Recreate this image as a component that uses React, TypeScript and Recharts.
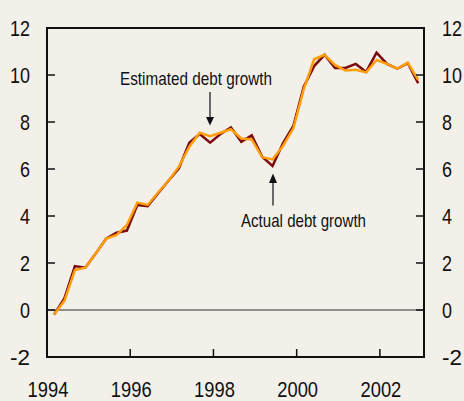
import { LineChart, Line, XAxis, YAxis, ReferenceLine } from "recharts"

const quarters = [
  "1994Q1", "1994Q2", "1994Q3", "1994Q4",
  "1995Q1", "1995Q2", "1995Q3", "1995Q4",
  "1996Q1", "1996Q2", "1996Q3", "1996Q4",
  "1997Q1", "1997Q2", "1997Q3", "1997Q4",
  "1998Q1", "1998Q2", "1998Q3", "1998Q4",
  "1999Q1", "1999Q2", "1999Q3", "1999Q4",
  "2000Q1", "2000Q2", "2000Q3", "2000Q4",
  "2001Q1", "2001Q2", "2001Q3", "2001Q4",
  "2002Q1", "2002Q2", "2002Q3", "2002Q4",
]

const actualGrowth = [
  -0.2, 0.5, 1.87, 1.8, 2.4, 3.03, 3.29, 3.38, 4.47, 4.42,
  4.97, 5.5, 6.03, 7.12, 7.49, 7.12, 7.49, 7.77, 7.16, 7.43,
  6.52, 6.13, 7.09, 7.83, 9.5, 10.38, 10.86, 10.3, 10.3, 10.47,
  10.13, 10.95, 10.47, 10.27, 10.5, 9.65,
]

const estimatedGrowth = [
  -0.2, 0.4, 1.7, 1.8, 2.4, 3.03, 3.19, 3.62, 4.57, 4.47,
  5.0, 5.5, 6.1, 6.95, 7.54, 7.4, 7.54, 7.69, 7.3, 7.26,
  6.5, 6.41, 6.98, 7.73, 9.4, 10.67, 10.86, 10.43, 10.19, 10.22,
  10.11, 10.64, 10.47, 10.27, 10.52, 9.79,
]

const yearTicks = [1994, 1996, 1998, 2000, 2002]
const valueTicks = [-2, 0, 2, 4, 6, 8, 10, 12]

// quarter label -> decimal year, plotted a little into the quarter
const toYear = (q: string) => Number(q.slice(0, 4)) + (Number(q.slice(5)) - 1) / 4 + 0.17

const data = quarters.map((q, i) => ({
  t: toYear(q),
  actual: actualGrowth[i],
  estimated: estimatedGrowth[i],
}))

const BG = "#f3f0ea"
const INK = "#111"
const FONT = '"Liberation Sans", Arial, sans-serif'

// plot box (chart margins + axis sizes below)
const X_DOMAIN = [1994, 2003.06]
const Y_DOMAIN = [-2, 12]
const LEFT = 47
const RIGHT = 424
const TOP = 28
const BOTTOM = 357
const px = (t: number) => LEFT + ((t - X_DOMAIN[0]) / (X_DOMAIN[1] - X_DOMAIN[0])) * (RIGHT - LEFT)
const py = (v: number) => TOP + ((Y_DOMAIN[1] - v) / (Y_DOMAIN[1] - Y_DOMAIN[0])) * (BOTTOM - TOP)

// narrow type: squeeze Arial-like glyphs to a fixed width per character
const narrow = (s: string | number, perChar: number) => ({
  textLength: String(s).length * perChar,
  lengthAdjust: "spacingAndGlyphs",
})

function XTick(props: any) {
  const { x, payload } = props
  return (
    <text x={x + 1} y={BOTTOM + 40} textAnchor="middle" fontSize={22} fontFamily={FONT} fill={INK}
      {...narrow(payload.value, 10.2)}>
      {payload.value}
    </text>
  )
}

function LeftTick(props: any) {
  const { y, payload } = props
  return (
    <text x={LEFT - 17} y={y + 8} textAnchor="end" fontSize={22} fontFamily={FONT} fill={INK}
      {...narrow(payload.value, 10)}>
      {payload.value}
    </text>
  )
}

function RightTick(props: any) {
  const { y, payload } = props
  return (
    <text x={RIGHT + 18} y={y + 8} textAnchor="start" fontSize={22} fontFamily={FONT} fill={INK}
      {...narrow(payload.value, 10)}>
      {payload.value}
    </text>
  )
}

export default function App() {
  return (
    <div style={{ position: "absolute", left: 0, top: 0, width: 464, height: 401, background: BG }}>
      <LineChart
        width={464}
        height={401}
        data={data}
        margin={{ top: TOP, right: 0, bottom: 0, left: 0 }}
      >
        <XAxis
          dataKey="t"
          type="number"
          domain={X_DOMAIN}
          ticks={yearTicks}
          height={401 - BOTTOM}
          tickLine={false}
          axisLine={false}
          tick={<XTick />}
        />
        <YAxis
          yAxisId="left"
          domain={Y_DOMAIN}
          ticks={valueTicks}
          width={LEFT}
          tickLine={false}
          axisLine={false}
          tick={<LeftTick />}
        />
        <YAxis
          yAxisId="right"
          orientation="right"
          domain={Y_DOMAIN}
          ticks={valueTicks}
          width={464 - RIGHT}
          tickLine={false}
          axisLine={false}
          tick={<RightTick />}
        />
        <ReferenceLine yAxisId="left" y={0} stroke="#6e6e6e" strokeWidth={1.5} />
        <Line
          yAxisId="left"
          dataKey="actual"
          stroke="#7d0a0a"
          strokeWidth={2.5}
          dot={false}
          isAnimationActive={false}
        />
        <Line
          yAxisId="right"
          dataKey="estimated"
          stroke="#ff9d0a"
          strokeWidth={2.5}
          dot={false}
          isAnimationActive={false}
        />
      </LineChart>

      {/* frame, inward ticks and annotations, drawn as filled shapes on top */}
      <svg width={464} height={401} style={{ position: "absolute", left: 0, top: 0, pointerEvents: "none" }}>
        <rect x={LEFT - 1} y={TOP - 1} width={2} height={BOTTOM - TOP + 2} fill={INK} />
        <rect x={RIGHT - 1} y={TOP - 1} width={2} height={BOTTOM - TOP + 2} fill={INK} />
        <rect x={LEFT - 1} y={TOP - 1} width={RIGHT - LEFT + 2} height={2} fill={INK} />
        <rect x={LEFT - 1} y={BOTTOM - 1} width={RIGHT - LEFT + 2} height={2} fill={INK} />
        {yearTicks.slice(1).map((t) => (
          <rect key={t} x={px(t) - 0.75} y={BOTTOM - 8} width={1.5} height={8} fill={INK} />
        ))}
        {valueTicks.slice(1, -1).map((v) => (
          <g key={v}>
            <rect x={LEFT} y={py(v) - 0.75} width={8} height={1.5} fill={INK} />
            <rect x={RIGHT - 8} y={py(v) - 0.75} width={8} height={1.5} fill={INK} />
          </g>
        ))}

        <text x={120} y={85} fontSize={18.5} fontFamily={FONT} fill={INK} textLength={152} lengthAdjust="spacingAndGlyphs">
          Estimated debt growth
        </text>
        <rect x={209.4} y={92} width={1.2} height={26} fill={INK} />
        <polygon points="206,117 214,117 210,125.5" fill={INK} />
        <text x={241} y={226.5} fontSize={18.5} fontFamily={FONT} fill={INK} textLength={125} lengthAdjust="spacingAndGlyphs">
          Actual debt growth
        </text>
        <rect x={272.4} y={182} width={1.2} height={23.5} fill={INK} />
        <polygon points="269,183 277,183 273,173.5" fill={INK} />
      </svg>
    </div>
  )
}
